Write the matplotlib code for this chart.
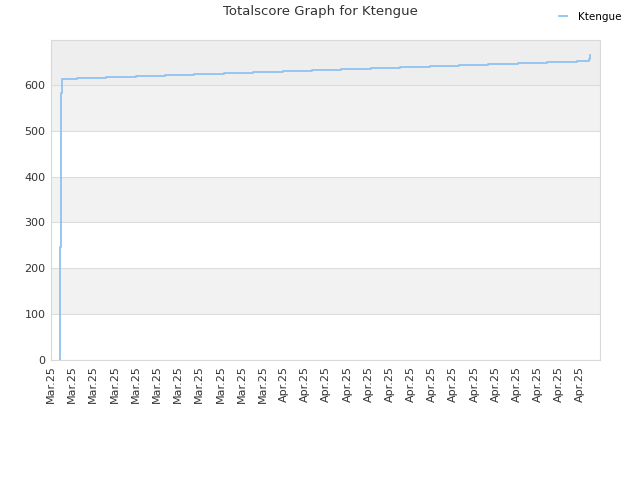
import numpy as np
import matplotlib
matplotlib.use("Agg")
import matplotlib.pyplot as plt
import matplotlib.dates as mdates
from datetime import datetime

# Totalscore history for Ktengue
player = "Ktengue"
times = [
    "2025-03-24 10:00", "2025-03-24 10:05", "2025-03-24 11:10", "2025-03-24 12:00",
    "2025-03-25 00:00", "2025-03-26 00:00", "2025-03-27 00:00", "2025-03-28 00:00",
    "2025-03-29 00:00", "2025-03-30 00:00", "2025-03-31 00:00", "2025-04-01 00:00",
    "2025-04-02 00:00", "2025-04-03 00:00", "2025-04-04 00:00", "2025-04-05 00:00",
    "2025-04-06 00:00", "2025-04-07 00:00", "2025-04-08 00:00", "2025-04-09 00:00",
    "2025-04-10 00:00", "2025-04-11 00:00", "2025-04-11 10:30", "2025-04-11 11:00",
]
scores = [
    0, 247, 583, 613,
    615, 617, 620, 622,
    624, 626, 628, 631,
    633, 635, 637, 639,
    642, 644, 646, 648,
    650, 653, 656, 665,
]
n_ticks = 26

dates = [datetime.strptime(t, "%Y-%m-%d %H:%M") for t in times]
x_start = mdates.date2num(datetime(2025, 3, 24, 3, 0))
x_end = x_start + 18.67

fig = plt.figure(figsize=(6.4, 4.8), dpi=100)
ax = fig.add_axes([0.0797, 0.25, 0.8578, 0.6667])

# alternating bands
band_colors = ["#ffffff", "#f2f2f2", "#ffffff", "#f2f2f2", "#ffffff", "#f2f2f2", "#eeeeee"]
for i, c in enumerate(band_colors):
    ax.axhspan(i * 100, (i + 1) * 100, color=c, zorder=0, lw=0)

ax.plot(dates, scores, drawstyle="steps-post", color="#90c2f0", lw=1.3,
        label=player, zorder=3)

ax.set_xlim(x_start, x_end)
ax.set_ylim(0, 698)
ax.set_yticks(range(0, 700, 100))
ax.yaxis.grid(True, color="#dddddd", lw=0.8, zorder=1)
ax.set_axisbelow(True)

tick_pos = x_start + np.arange(n_ticks) * 0.72
ax.set_xticks(tick_pos)
ax.xaxis.set_major_formatter(mdates.DateFormatter("%b.%y"))
plt.setp(ax.get_xticklabels(), rotation=90)

ax.tick_params(length=0, labelsize=8, colors="#333333", pad=4)
for s in ax.spines.values():
    s.set_color("#d9d9d9")

fig.suptitle("Totalscore Graph for Ktengue", y=0.99, fontsize=9.5, color="#333333")
fig.legend(loc="upper right", bbox_to_anchor=(0.985, 0.995), frameon=False,
           fontsize=7.5, handlelength=0.8, handletextpad=1.0)

fig.savefig("out.png", dpi=100)
